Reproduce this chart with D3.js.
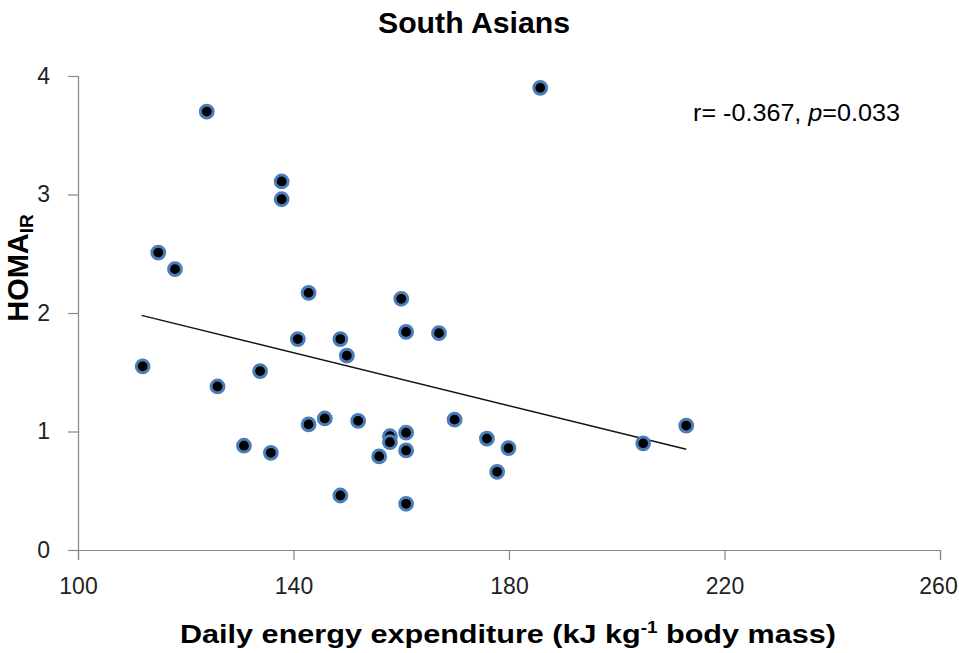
<!DOCTYPE html>
<html>
<head>
<meta charset="utf-8">
<script src="https://cdn.jsdelivr.net/npm/d3@7"></script>
<style>
  body { margin: 0; background: #fff; }
  text { font-family: "Liberation Sans", Arial, sans-serif; }
</style>
</head>
<body>
<script>
// daily energy expenditure (kJ/kg) and HOMA-IR
var energy = [123.9, 185.8, 137.8, 137.8, 114.9, 118.0, 142.8, 160.0, 160.9, 167.0,
              140.8, 148.7, 149.9, 112.0, 133.8, 125.9, 169.9, 145.8, 152.0, 142.8,
              212.9, 160.9, 157.9, 175.9, 157.9, 204.9, 130.8, 160.9, 179.9, 135.8,
              155.9, 177.8, 148.7, 160.9];
var homa   = [3.70, 3.90, 3.11, 2.96, 2.51, 2.37, 2.17, 2.12, 1.84, 1.83,
              1.78, 1.78, 1.64, 1.55, 1.51, 1.38, 1.10, 1.11, 1.09, 1.06,
              1.05, 0.99, 0.96, 0.94, 0.91, 0.90, 0.88, 0.84, 0.86, 0.82,
              0.79, 0.66, 0.46, 0.39];

// regression line end points
var trendX = [111.8, 212.9];
var trendY = [1.98, 0.85];

var xTicks = [100, 140, 180, 220, 260];
var yTicks = [0, 1, 2, 3, 4];

var width = 959, height = 653;

var svg = d3.select("body").append("svg")
    .attr("width", width)
    .attr("height", height);

var x = d3.scaleLinear().domain([100, 260]).range([78, 940]);
var y = d3.scaleLinear().domain([0, 4]).range([550, 76]);

var axisColor = "#868686";

var gx = svg.append("g")
    .attr("transform", "translate(0," + y(0) + ")")
    .call(d3.axisBottom(x).tickValues(xTicks).tickSize(10).tickPadding(18).tickFormat(d3.format("d")));

var gy = svg.append("g")
    .attr("transform", "translate(" + x(100) + ",0)")
    .call(d3.axisLeft(y).tickValues(yTicks).tickSize(10).tickPadding(18).tickFormat(d3.format("d")));

[gx, gy].forEach(function(g) {
  g.select(".domain").attr("stroke", axisColor).attr("stroke-width", 1.2);
  g.selectAll(".tick line").attr("stroke", axisColor).attr("stroke-width", 1.2);
  g.selectAll(".tick text")
    .attr("fill", "#222")
    .style("font-size", "23px")
    .style("font-family", "'Liberation Sans', Arial, sans-serif");
});
// keep the last x label inside the page
gx.selectAll(".tick text").filter(function(d) { return d === 260; }).attr("dx", -2);

// trend line
var pts = trendX.map(function(d, i) { return [d, trendY[i]]; });
svg.append("path")
    .datum(pts)
    .attr("fill", "none")
    .attr("stroke", "#111")
    .attr("stroke-width", 1.5)
    .attr("d", d3.line().x(function(d) { return x(d[0]); }).y(function(d) { return y(d[1]); }));

// points
svg.selectAll("circle.pt")
    .data(energy)
    .enter().append("circle")
    .attr("class", "pt")
    .attr("cx", function(d) { return x(d); })
    .attr("cy", function(d, i) { return y(homa[i]); })
    .attr("r", 6.4)
    .attr("fill", "#000")
    .attr("stroke", "#4a7ebb")
    .attr("stroke-width", 3);

// title
svg.append("text")
    .attr("x", 474).attr("y", 33)
    .attr("text-anchor", "middle")
    .style("font-size", "30px").style("font-weight", "bold")
    .attr("textLength", 192).attr("lengthAdjust", "spacingAndGlyphs")
    .text("South Asians");

// x axis title
var xt = svg.append("text")
    .attr("x", 508).attr("y", 643)
    .attr("text-anchor", "middle")
    .style("font-size", "26px").style("font-weight", "bold")
    .attr("textLength", 656).attr("lengthAdjust", "spacingAndGlyphs");
xt.append("tspan").text("Daily energy expenditure (kJ kg");
xt.append("tspan").attr("dy", -10).style("font-size", "16px").text("-1");
xt.append("tspan").attr("dy", 10).text(" body mass)");

// y axis title
var yt = svg.append("text")
    .attr("transform", "translate(28,268) rotate(-90)")
    .attr("text-anchor", "middle")
    .style("font-size", "29px").style("font-weight", "bold");
yt.append("tspan").text("HOMA");
yt.append("tspan").attr("dy", 5).style("font-size", "19px").text("IR");

// stats annotation
var st = svg.append("text")
    .attr("x", 693).attr("y", 121)
    .style("font-size", "23px")
    .attr("textLength", 207).attr("lengthAdjust", "spacingAndGlyphs");
st.append("tspan").text("r= -0.367, ");
st.append("tspan").style("font-style", "italic").text("p");
st.append("tspan").text("=0.033");
</script>
</body>
</html>
